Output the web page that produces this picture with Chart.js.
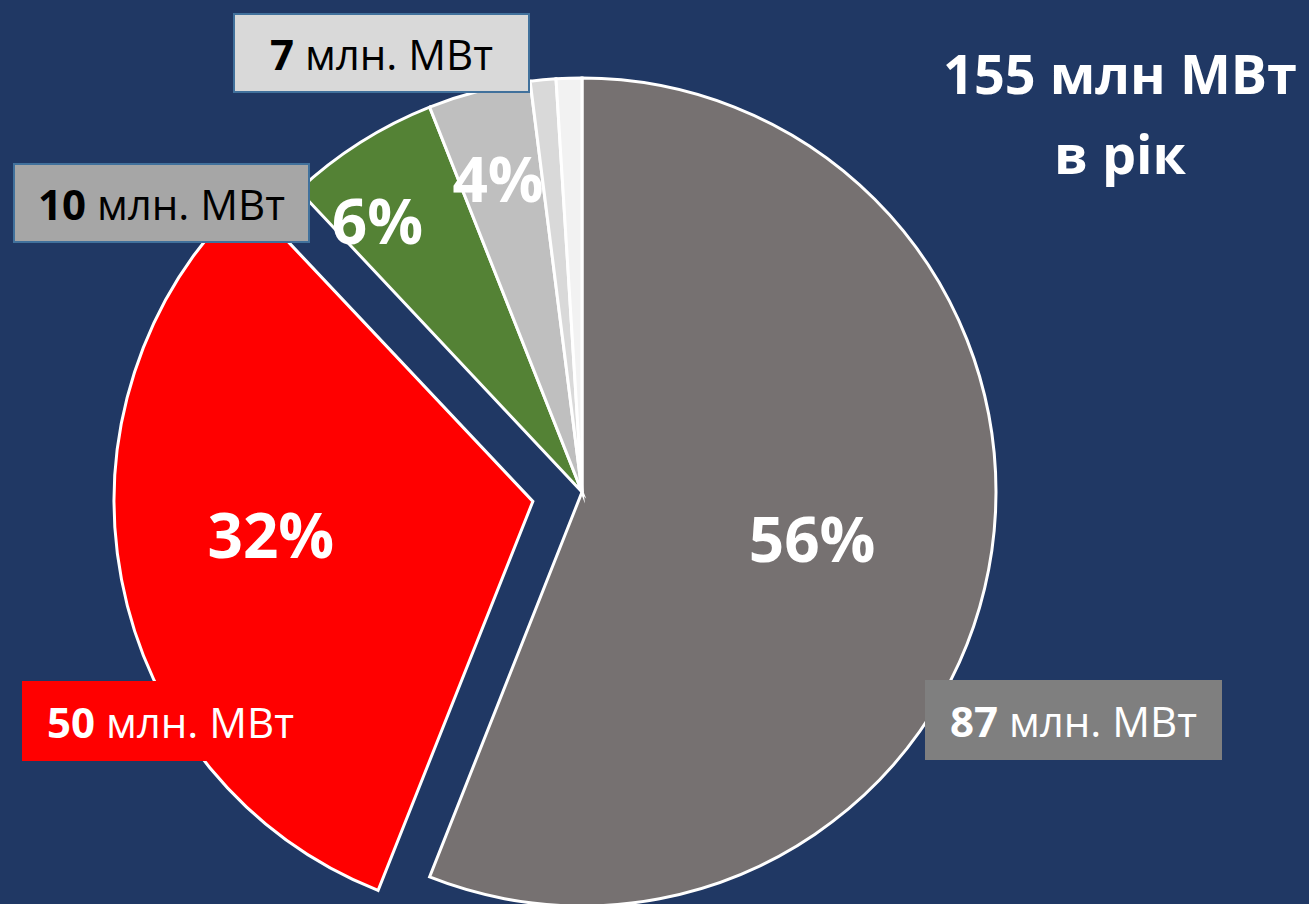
<!DOCTYPE html>
<html>
<head>
<meta charset="utf-8">
<script src="https://cdn.jsdelivr.net/npm/chart.js@4"></script>
<style>
    html, body { margin: 0; padding: 0; background: #203864; overflow: hidden; }
    #wrap { position: relative; width: 1309px; height: 904px; font-family: 'Open Sans', sans-serif; }
    #pie { position: absolute; left: 0; top: 0; }
    .box {
        position: absolute; box-sizing: border-box; width: 297px; height: 80px;
        display: flex; align-items: center; justify-content: center;
        font-size: 42px; white-space: pre;
    }
    .box b { font-weight: 700; }
    #total {
        position: absolute; left: 900px; top: 33px; width: 440px; text-align: center;
        color: #fff; font-weight: 700; font-size: 54px; line-height: 80px;
    }
</style>
</head>
<body>
<div id="wrap">
    <canvas id="pie" width="1309" height="904"></canvas>
    <div id="total">155 млн МВт<br>в рік</div>
</div>
<script>
// shares in %, clockwise from 12 o'clock
const categories = ['Сегмент 1', 'Сегмент 2', 'Сегмент 3', 'Сегмент 4', 'Сегмент 5', 'Сегмент 6'];
const shares = [56, 32, 6, 4, 1, 1];
const volumes = [87, 50, 10, 7, null, null]; // млн. МВт
const percentLabels = ['56%', '32%', '6%', '4%', '', ''];
const sliceColors = ['#767171', '#ff0000', '#548235', '#bfbfbf', '#d9d9d9', '#f2f2f2'];
const sliceOffsets = [0, 200, 0, 0, 0, 0];

// where the % text sits: [fraction along slice angle, fraction of radius]
const labelAnchor = [[0.51, 0.57], [0.52, 0.64], [0.26, 0.81], [0.44, 0.77], null, null];

// value callouts
const callouts = [
    { idx: 0, left: 925, top: 680, bg: '#7f7f7f', color: '#fff', border: 'none' },
    { idx: 1, left: 22, top: 681, bg: '#ff0000', color: '#fff', border: 'none' },
    { idx: 2, left: 13, top: 163, bg: '#a6a6a6', color: '#000', border: '2px solid #41719c' },
    { idx: 3, left: 233, top: 13, bg: '#d9d9d9', color: '#000', border: '2px solid #41719c' }
];

const percentPlugin = {
    id: 'percentPlugin',
    afterDatasetsDraw(chart) {
        const ctx = chart.ctx;
        const arcs = chart.getDatasetMeta(0).data;
        ctx.save();
        ctx.fillStyle = '#ffffff';
        ctx.font = 'bold 62px "Open Sans"';
        ctx.textAlign = 'center';
        ctx.textBaseline = 'middle';
        arcs.forEach((arc, i) => {
            const a = labelAnchor[i];
            if (!a) return;
            const { x, y, startAngle, endAngle, outerRadius } = arc.getProps(['x', 'y', 'startAngle', 'endAngle', 'outerRadius'], true);
            const mid = (startAngle + endAngle) / 2;
            const shift = (arc.options.offset || 0) / 4;
            const cx = x + Math.cos(mid) * shift;
            const cy = y + Math.sin(mid) * shift;
            const ang = startAngle + (endAngle - startAngle) * a[0];
            const r = outerRadius * a[1];
            ctx.fillText(percentLabels[i], cx + Math.cos(ang) * r, cy + Math.sin(ang) * r);
        });
        ctx.restore();
    }
};

new Chart(document.getElementById('pie'), {
    type: 'pie',
    data: {
        labels: categories,
        datasets: [{
            data: shares,
            backgroundColor: sliceColors,
            borderColor: '#ffffff',
            borderWidth: 3,
            borderJoinStyle: 'miter',
            offset: sliceOffsets,
            clip: false
        }]
    },
    options: {
        responsive: false,
        animation: false,
        devicePixelRatio: 1,
        radius: 414,
        layout: { padding: { left: 0, right: 145, top: 80, bottom: 0 } },
        plugins: {
            legend: { display: false },
            tooltip: { enabled: false }
        }
    },
    plugins: [percentPlugin]
});

const wrap = document.getElementById('wrap');
callouts.forEach(c => {
    const d = document.createElement('div');
    d.className = 'box';
    d.style.left = c.left + 'px';
    d.style.top = c.top + 'px';
    d.style.background = c.bg;
    d.style.color = c.color;
    d.style.border = c.border;
    d.innerHTML = '<b>' + volumes[c.idx] + '</b> млн. МВт';
    wrap.appendChild(d);
});
</script>
</body>
</html>
